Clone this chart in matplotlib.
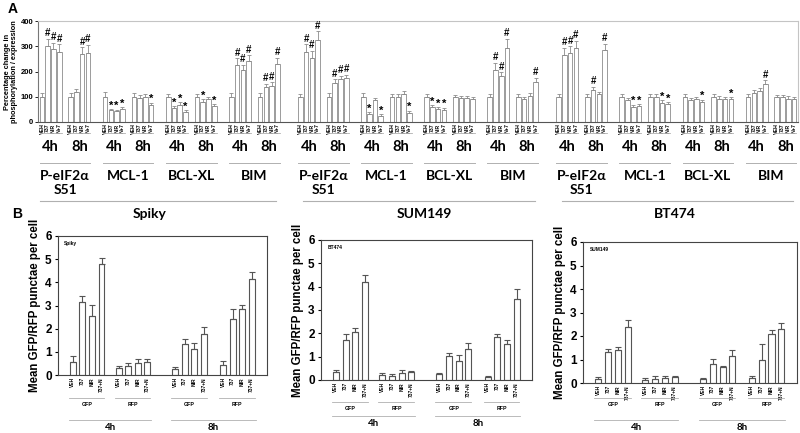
import matplotlib.pyplot as plt
import numpy as np
from matplotlib.transforms import blended_transform_factory

# ---- panel A data: 4 proteins x (4h, 8h) x (VEH, 737, NIR, N+7) per cell line
proteins = ["P-eIF2\u03b1", "MCL-1", "BCL-XL", "BIM"]
times_a = ["4h", "8h"]
treat_a = ["VEH", "737", "NIR", "N+7"]

line1_val = [100, 300, 288, 278, 100, 117, 268, 275,
             100, 47, 44, 52, 100, 94, 100, 68,
             100, 55, 68, 40, 100, 80, 90, 62,
             100, 225, 206, 240, 100, 137, 143, 230]
line1_err = [15, 30, 25, 30, 15, 15, 28, 30,
             17, 5, 5, 6, 13, 13, 12, 8,
             12, 8, 10, 6, 12, 10, 8, 8,
             14, 28, 20, 25, 13, 15, 15, 25]
line1_sig = "-###--##" "-***---*" "-***-*-*" "-###-###"

line2_val = [100, 278, 255, 325, 100, 156, 170, 174,
             100, 32, 87, 24, 100, 100, 111, 37,
             100, 58, 51, 49, 100, 96, 96, 90,
             100, 206, 183, 294, 100, 90, 103, 157]
line2_err = [12, 30, 28, 35, 13, 14, 14, 14,
             13, 6, 8, 7, 12, 10, 10, 8,
             12, 8, 8, 8, 8, 8, 8, 8,
             12, 28, 15, 35, 10, 8, 10, 18]
line2_sig = "-###-###" "-*-*---*" "-***----" "-###---#"

line3_val = [100, 265, 272, 292, 100, 127, 110, 285,
             100, 87, 61, 63, 100, 100, 76, 71,
             100, 87, 91, 81, 100, 92, 91, 90,
             100, 116, 122, 150, 100, 98, 92, 90]
line3_err = [12, 30, 28, 30, 12, 12, 10, 25,
             12, 10, 8, 8, 10, 10, 10, 8,
             10, 8, 8, 8, 10, 10, 8, 8,
             12, 12, 12, 15, 8, 10, 10, 8]
line3_sig = "-###-#-#" "--**--**" "---*---*" "---#----"

# ---- panel B data: (4h GFP, 4h RFP, 8h GFP, 8h RFP) x (VEH, 737, NIR, 737+N)
treat_b = ["VEH", "737", "NIR", "737+N"]
spiky_val = [0.55, 3.17, 2.53, 4.78, 0.30, 0.38, 0.51, 0.55,
             0.28, 1.33, 1.14, 1.75, 0.43, 2.43, 2.83, 4.14]
spiky_err = [0.25, 0.22, 0.48, 0.26, 0.10, 0.14, 0.17, 0.12,
             0.05, 0.22, 0.24, 0.31, 0.16, 0.42, 0.18, 0.32]
sum149_val = [0.36, 1.71, 2.04, 4.19, 0.21, 0.17, 0.31, 0.34,
              0.26, 1.03, 0.81, 1.34, 0.14, 1.83, 1.53, 3.46]
sum149_err = [0.05, 0.26, 0.17, 0.30, 0.10, 0.07, 0.12, 0.06,
              0.05, 0.11, 0.28, 0.23, 0.05, 0.13, 0.18, 0.45]
bt474_val = [0.17, 1.31, 1.41, 2.39, 0.14, 0.17, 0.21, 0.24,
             0.17, 0.79, 0.67, 1.14, 0.21, 0.96, 2.07, 2.29]
bt474_err = [0.09, 0.12, 0.12, 0.31, 0.07, 0.14, 0.10, 0.05,
             0.04, 0.25, 0.04, 0.26, 0.10, 0.71, 0.19, 0.28]

W, H = 800, 433
fig = plt.figure(figsize=(8, 4.33), dpi=100)
cal = ["Lato", "DejaVu Sans"]
ari = ["Liberation Sans", "DejaVu Sans"]


def fy(py):
    return 1 - py / H


def rect(l, t, r, b):
    return [l / W, 1 - b / H, (r - l) / W, (b - t) / H]


# ================= panel A =================
axA = fig.add_axes(rect(38, 21, 798, 122))
vals = line1_val + line2_val + line3_val
errs = line1_err + line2_err + line3_err
sigs = line1_sig + line2_sig + line3_sig
xs = []
for c in range(3):
    for p in range(4):
        for t in range(2):
            for b in range(4):
                xs.append(c * 45 + p * 11 + t * 5 + b)
xs = np.array(xs)
gray = "#8c8c8c"
axA.bar(xs, vals, width=0.8, color="white", edgecolor=gray, linewidth=0.6)
axA.errorbar(xs, vals, yerr=[np.zeros(len(vals)), errs], fmt="none",
             ecolor=gray, elinewidth=0.6, capsize=1.3, capthick=0.6)
for x, v, e, s in zip(xs, vals, errs, sigs):
    if s != "-":
        axA.text(x, v + e + (2 if s == "#" else -6), s, ha="center", va="bottom",
                 fontsize=7 if s == "#" else 8, fontweight="bold", family=ari)
axA.set_xlim(-0.7, 131.7)
axA.set_ylim(0, 400)
axA.set_yticks([0, 100, 200, 300, 400])
axA.set_yticklabels(["0", "100", "200", "300", "400"], fontsize=5.5,
                    fontweight="bold", family=ari)
axA.tick_params(axis="y", length=2, width=0.6, pad=1.5)
axA.set_xticks(xs)
axA.set_xticklabels(treat_a * 24, rotation=90, fontsize=3.8, family=ari,
                    fontweight="bold")
axA.tick_params(axis="x", length=0, pad=1)
axA.spines["left"].set_color("#777777")
axA.spines["bottom"].set_color("#555555")
axA.spines["top"].set_color("#c4c4c4")
axA.spines["right"].set_color("#c4c4c4")
for sp in axA.spines.values():
    sp.set_linewidth(0.8)
axA.set_ylabel("Percentage change in\nphosphorylation / expression",
               fontsize=5.3, fontweight="bold", family=ari, labelpad=2,
               linespacing=1.0)

trA = blended_transform_factory(axA.transData, fig.transFigure)
lc = "#b0b0b0"
for c in range(3):
    for p in range(4):
        x0 = c * 45 + p * 11
        for t in range(2):
            xt = x0 + t * 5
            axA.plot([xt - 0.4, xt + 3.4], [fy(132.5)] * 2, color=lc, lw=0.6,
                     transform=trA, clip_on=False)
            axA.text(xt + 1.5, fy(147), times_a[t], transform=trA, ha="center",
                     va="center", fontsize=10.5, fontweight="bold", family=cal)
        axA.plot([x0 - 0.4, x0 + 8.4], [fy(163)] * 2, color=lc, lw=0.7,
                 transform=trA, clip_on=False)
        axA.text(x0 + 4.0, fy(176), proteins[p], transform=trA, ha="center",
                 va="center", fontsize=10, fontweight="bold", family=cal)
        if p == 0:
            axA.text(x0 + 4.0, fy(190.5), "S51", transform=trA, ha="center",
                     va="center", fontsize=10, fontweight="bold", family=cal)
    axA.plot([c * 45 - 0.4 + (0.9 if c else 0), c * 45 + 40.8], [fy(201)] * 2,
             color=lc, lw=0.8, transform=trA, clip_on=False)

fig.text(8 / W, fy(9), "A", fontsize=10, fontweight="bold", family=ari,
         ha="left", va="center")
fig.text(12 / W, fy(214), "B", fontsize=10, fontweight="bold", family=ari,
         ha="left", va="center")

# ================= panel B =================
pos_b = np.array([0, 1, 2, 3, 4.8, 5.8, 6.8, 7.8,
                  10.7, 11.7, 12.7, 13.7, 15.7, 16.7, 17.7, 18.7])
groups_b = ["GFP", "RFP", "GFP", "RFP"]
times_b = ["4h", "8h"]


def panel_b(box, title, title_px, inner, v, e, ys):
    ax = fig.add_axes(rect(*box))
    ax.bar(pos_b, v, width=0.62, color="white", edgecolor="#555555", linewidth=0.8)
    ax.errorbar(pos_b, v, yerr=[np.zeros(len(v)), e], fmt="none", ecolor="#555555",
                elinewidth=0.8, capsize=2, capthick=0.8)
    ax.set_xlim(-1.55, 20.3)
    ax.set_ylim(0, 6)
    ax.set_yticks(range(7))
    ax.set_yticklabels([str(i) for i in range(7)], fontsize=8.5,
                       fontweight="bold", family=ari)
    ax.tick_params(axis="y", length=2.5, width=0.8, pad=2)
    ax.set_xticks(pos_b)
    ax.set_xticklabels(treat_b * 4, rotation=90, fontsize=3.5, family=ari,
                       fontweight="bold")
    ax.tick_params(axis="x", length=0, pad=1.5)
    for sp in ax.spines.values():
        sp.set_color("#444444")
        sp.set_linewidth(0.8)
    ax.set_ylabel("Mean GFP/RFP punctae per cell", fontsize=8.3,
                  fontweight="bold", family=ari, labelpad=3)
    ax.text(0.03, 0.965, inner, transform=ax.transAxes, fontsize=3.5,
            fontweight="bold", family=ari, ha="left", va="top")
    fig.text(title_px / W, fy(214), title, fontsize=10, fontweight="bold",
             family=cal, ha="center", va="center")
    tr = blended_transform_factory(ax.transData, fig.transFigure)
    for g in range(4):
        a, b = pos_b[g * 4], pos_b[g * 4 + 3]
        ax.plot([a - 0.4, b + 0.3], [fy(ys[0])] * 2, color=lc, lw=0.6,
                transform=tr, clip_on=False)
        ax.text((a + b) / 2, fy(ys[1]), groups_b[g], transform=tr, ha="center",
                va="center", fontsize=3.8, fontweight="bold", family=ari)
    for t in range(2):
        a, b = pos_b[t * 8], pos_b[t * 8 + 7]
        ax.plot([a - 0.4, b + 0.4], [fy(ys[2])] * 2, color=lc, lw=0.6,
                transform=tr, clip_on=False)
        ax.text((a + b) / 2, fy(ys[3]), times_b[t], transform=tr, ha="center",
                va="center", fontsize=7, fontweight="bold", family=cal)


panel_b((58, 236, 267, 375), "Spiky", 150, "Spiky", spiky_val, spiky_err,
        (398, 404, 420, 428))
panel_b((321, 240, 532, 380), "SUM149", 424, "BT474", sum149_val, sum149_err,
        (402, 408, 416, 424))
panel_b((583, 242, 797, 383), "BT474", 675, "SUM149", bt474_val, bt474_err,
        (398, 405, 420, 428))

fig.savefig("out.png", dpi=100)
